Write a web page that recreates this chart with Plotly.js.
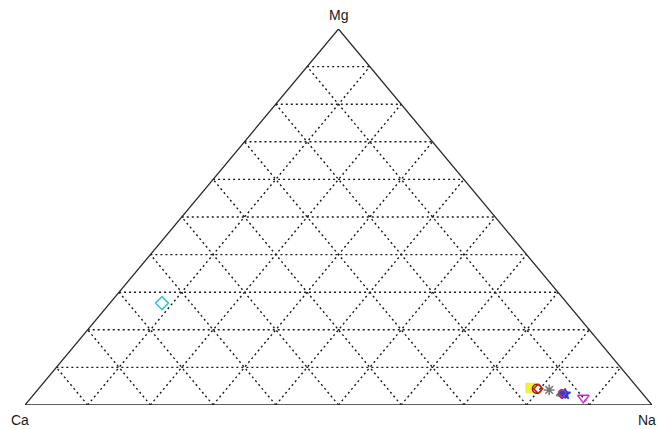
<!DOCTYPE html>
<html>
<head>
<meta charset="utf-8">
<script src="https://cdn.plot.ly/plotly-3.0.1.min.js"></script>
<style>
  html, body { margin: 0; padding: 0; background: #fff; }
  #chart { width: 657px; height: 429px; }
</style>
</head>
<body>
<div id="chart"></div>
<script>
// Ternary cation diagram (Ca - Mg - Na), fractions of 1.
const vertexLabels = ["Ca", "Mg", "Na"];
const gridTicks = [0.1, 0.2, 0.3, 0.4, 0.5, 0.6, 0.7, 0.8, 0.9];

// Sample compositions: Ca, Mg, Na fractions
const sampleCa = [0.646, 0.171, 0.162, 0.160, 0.144, 0.130, 0.127, 0.124, 0.128, 0.100];
const sampleMg = [0.271, 0.045, 0.043, 0.043, 0.040, 0.030, 0.029, 0.029, 0.031, 0.019];
const sampleNa = [0.083, 0.784, 0.795, 0.797, 0.816, 0.840, 0.844, 0.847, 0.841, 0.881];
const sampleSymbols = ["diamond-open", "square", "circle-open", "diamond-open", "asterisk-open",
                       "triangle-up", "x", "star", "circle-open", "triangle-down-open"];
const sampleColors = ["#33cccc", "#f2e600", "#8b1a1a", "#cc2200", "#777777",
                      "#22aa22", "#dd2222", "#2244dd", "#aa33aa", "#dd22dd"];
const sampleSizes = [10, 9, 9, 7, 9, 8, 7, 8, 7, 10];

// Map a (Ca, Mg, Na) composition to plane coordinates on the triangle
function toXY(ca, mg, na) {
  const s = ca + mg + na;
  return { x: (na + mg / 2) / s, y: mg / s };
}

const traces = [];

// Dotted grid lines in the three directions
const gx = [], gy = [];
gridTicks.forEach(t => {
  // constant Mg
  let a = toXY(1 - t, t, 0), b = toXY(0, t, 1 - t);
  gx.push(a.x, b.x, null); gy.push(a.y, b.y, null);
  // constant Na
  a = toXY(1 - t, 0, t); b = toXY(0, 1 - t, t);
  gx.push(a.x, b.x, null); gy.push(a.y, b.y, null);
  // constant Ca
  a = toXY(t, 0, 1 - t); b = toXY(t, 1 - t, 0);
  gx.push(a.x, b.x, null); gy.push(a.y, b.y, null);
});
traces.push({
  x: gx, y: gy, mode: "lines", hoverinfo: "skip",
  line: { color: "#1a1a1a", width: 1.4, dash: "2px,3px" }
});

// Triangle outline
const vCa = toXY(1, 0, 0), vMg = toXY(0, 1, 0), vNa = toXY(0, 0, 1);
traces.push({
  x: [vCa.x, vNa.x, vMg.x, vCa.x], y: [vCa.y, vNa.y, vMg.y, vCa.y],
  mode: "lines", hoverinfo: "skip",
  line: { color: "#2a2a2a", width: 1.3 }
});

// Samples
for (let i = 0; i < sampleCa.length; i++) {
  const p = toXY(sampleCa[i], sampleMg[i], sampleNa[i]);
  traces.push({
    x: [p.x], y: [p.y], mode: "markers",
    marker: {
      symbol: sampleSymbols[i], color: sampleColors[i], size: sampleSizes[i],
      opacity: sampleSymbols[i] === "square" ? 0.75 : 1,
      line: { color: sampleColors[i], width: 1.5 }
    }
  });
}

const labelFont = { family: "Liberation Sans, Arial, sans-serif", size: 14, color: "#1a1a1a" };
const layout = {
  width: 657, height: 429,
  margin: { l: 25, r: 5, t: 29, b: 24 },
  paper_bgcolor: "#fff", plot_bgcolor: "#fff",
  showlegend: false,
  xaxis: { range: [0, 1], visible: false, fixedrange: true },
  yaxis: { range: [0, 1], visible: false, fixedrange: true },
  annotations: [
    { x: vMg.x, y: vMg.y, xref: "x", yref: "y", text: vertexLabels[1], showarrow: false,
      font: labelFont, yanchor: "bottom", yshift: 4 },
    { x: vCa.x, y: vCa.y, xref: "x", yref: "y", text: vertexLabels[0], showarrow: false,
      font: labelFont, yanchor: "top", xshift: -5, yshift: -5 },
    { x: vNa.x, y: vNa.y, xref: "x", yref: "y", text: vertexLabels[2], showarrow: false,
      font: labelFont, yanchor: "top", xanchor: "left", xshift: -16, yshift: -5 }
  ]
};

Plotly.newPlot("chart", traces, layout, { displayModeBar: false, staticPlot: true });
</script>
</body>
</html>
